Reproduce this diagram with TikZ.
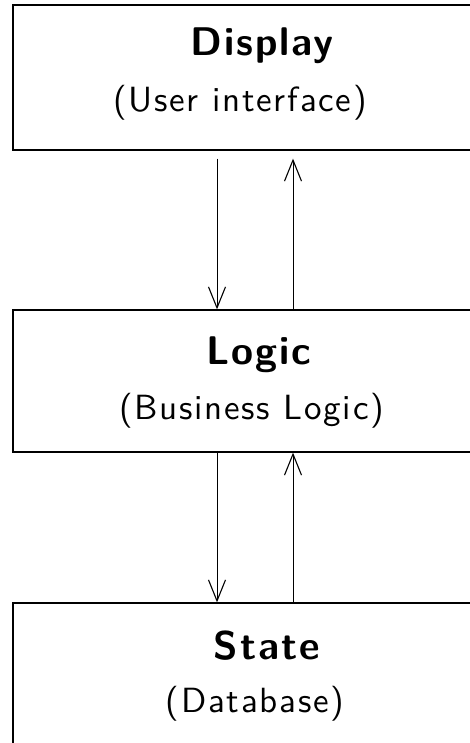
\documentclass[tikz,border=0pt]{standalone}
\usepackage{fontspec}
\newfontfamily\titlefont{lmsans10-bold.otf}[LetterSpace=5]
\newfontfamily\subfont{lmsans10-regular.otf}[LetterSpace=5]
\usetikzlibrary{arrows.meta}
\begin{document}
\begin{tikzpicture}[x=1pt,y=-1pt,
  layer/.style={draw=black, line width=1.3pt, rectangle, inner sep=0pt, minimum width=477pt},
  title/.style={anchor=base, inner sep=0pt, font=\titlefont\fontsize{40}{46}\selectfont},
  subtitle/.style={anchor=base, inner sep=0pt, font=\subfont\fontsize{35}{42}\selectfont},
  arr/.style={line width=0.9pt, -{Straight Barb[length=21pt,width=17pt,line width=1.1pt]}}]
  \clip (0,0) rectangle (470,743);
  \fill[white] (0,0) rectangle (470,743);
  % three stacked layers, running past the right edge
  \node[layer, minimum height=145pt] (display) at (251.5,77.5) {};
  \node[layer, minimum height=142pt] (logic) at (251.5,381) {};
  \node[layer, minimum height=160pt] (state) at (251.5,683) {};
  % labels
  \node[title] (displayT) at (262,56) {Display};
  \node[subtitle] (displayS) at (240,112) {(User interface)};
  \node[title] (logicT) at (259,364) {Logic};
  \node[subtitle] (logicS) at (251.5,419) {(Business Logic)};
  \node[title] (stateT) at (267,659) {State};
  \node[subtitle] (stateS) at (255,712) {(Database)};
  % columns of the request / response arrows
  \coordinate (dx) at (217,0);
  \coordinate (ux) at (293,0);
  \draw[arr] ([yshift=-8pt]display.south -| dx) -- (logic.north -| dx);
  \draw[arr] (logic.north -| ux) -- ([yshift=-8pt]display.south -| ux);
  \draw[arr] (logic.south -| dx) -- (state.north -| dx);
  \draw[arr] (state.north -| ux) -- (logic.south -| ux);
\end{tikzpicture}
\end{document}
